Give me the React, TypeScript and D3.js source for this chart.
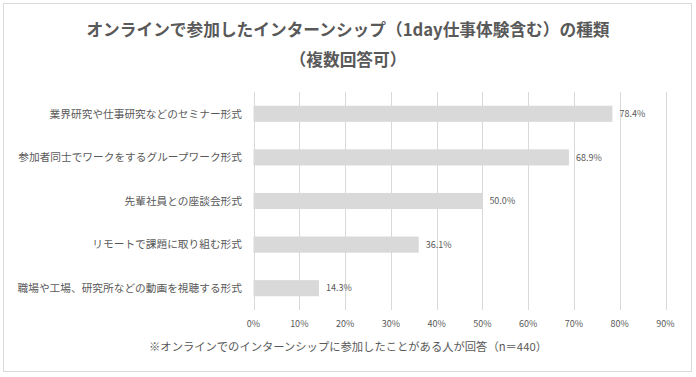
import React from "react";
import * as d3 from "d3";

const categories = [
  "業界研究や仕事研究などのセミナー形式",
  "参加者同士でワークをするグループワーク形式",
  "先輩社員との座談会形式",
  "リモートで課題に取り組む形式",
  "職場や工場、研究所などの動画を視聴する形式",
];
const values = [78.4, 68.9, 50.0, 36.1, 14.3];
const ticks = [0, 10, 20, 30, 40, 50, 60, 70, 80, 90];
const titleLines = ["オンラインで参加したインターンシップ（1day仕事体験含む）の種類", "（複数回答可）"];
const footnote = "※オンラインでのインターンシップに参加したことがある人が回答（n＝440）";

const W = 696;
const H = 377;
const FONT = "'Noto Sans CJK JP', 'Noto Sans', sans-serif";
const TEXT = "#595959";
const GRID = "#d9d9d9";

export default function App() {
  const x = d3.scaleLinear().domain([0, 90]).range([253.5, 665.5]);
  const y = d3.scaleBand<string>().domain(categories).range([92, 310]).paddingInner(0.63).paddingOuter(0.315);
  return (
    <svg width={W} height={H} style={{ position: "absolute", left: 0, top: 0 }} fontFamily={FONT}>
      <rect x={0} y={0} width={W} height={H} fill="#fff" />
      <rect x={3.5} y={3.5} width={688} height={368} fill="#fff" stroke={GRID} strokeWidth={1} />
      <text x={348} y={36} textAnchor="middle" fontSize={16.7} fontWeight="bold" fill={TEXT}>{titleLines[0]}</text>
      <text x={348} y={66} textAnchor="middle" fontSize={16.7} fontWeight="bold" fill={TEXT}>{titleLines[1]}</text>
      {ticks.map((t) => (
        <g key={t}>
          <line x1={Math.round(x(t)) + 0.5} x2={Math.round(x(t)) + 0.5} y1={92} y2={310} stroke={GRID} strokeWidth={1} />
          <text x={x(t)} y={327} textAnchor="middle" fontSize={9} fill={TEXT}>{t}%</text>
        </g>
      ))}
      {categories.map((c, i) => (
        <g key={c}>
          <rect x={x(0)} y={y(c)!} width={x(values[i]) - x(0)} height={y.bandwidth()} fill={GRID} />
          <text x={242} y={y(c)! + y.bandwidth() / 2} dy="0.35em" textAnchor="end" fontSize={10.7} fill={TEXT}>{c}</text>
          <text x={x(values[i]) + 7} y={y(c)! + y.bandwidth() / 2} dy="0.35em" fontSize={9} fill={TEXT}>{values[i].toFixed(1)}%</text>
        </g>
      ))}
      <text x={348} y={351} textAnchor="middle" fontSize={11.3} fill={TEXT}>{footnote}</text>
    </svg>
  );
}
